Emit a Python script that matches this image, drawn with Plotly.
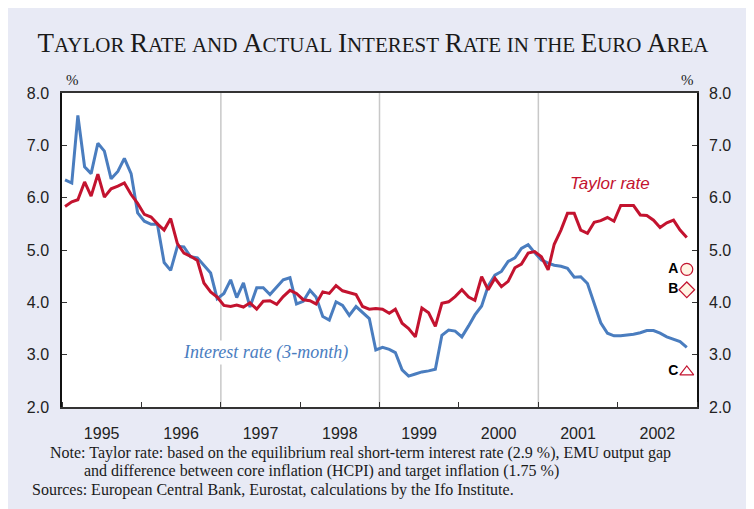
import pandas as pd
import plotly.graph_objects as go

# Monthly data, Jan 1995 - Nov 2002
interest_rate = [
    6.34, 6.28, 7.57, 6.59, 6.46, 7.04, 6.89, 6.36, 6.50, 6.75, 6.46, 5.71,
    5.55, 5.49, 5.49, 4.76, 4.61, 5.07, 5.06, 4.87, 4.85, 4.71, 4.56, 4.07,
    4.17, 4.43, 4.09, 4.37, 3.91, 4.28, 4.28, 4.15, 4.29, 4.43, 4.47, 3.97,
    4.02, 4.23, 4.10, 3.73, 3.66, 4.01, 3.94, 3.75, 3.92, 3.80, 3.69, 3.09,
    3.14, 3.10, 3.04, 2.71, 2.59, 2.63, 2.67, 2.69, 2.72, 3.37, 3.47, 3.45,
    3.34, 3.55, 3.76, 3.93, 4.31, 4.52, 4.59, 4.78, 4.85, 5.03, 5.10, 4.95,
    4.81, 4.75, 4.71, 4.69, 4.65, 4.48, 4.49, 4.36, 3.98, 3.61, 3.41, 3.36,
    3.36, 3.37, 3.39, 3.42, 3.46, 3.46, 3.41, 3.34, 3.30, 3.25, 3.14,
]
taylor_rate = [
    5.83, 5.92, 5.96, 6.30, 6.03, 6.45, 6.01, 6.17, 6.22, 6.28, 6.06, 5.89,
    5.68, 5.63, 5.50, 5.38, 5.60, 5.12, 4.94, 4.88, 4.80, 4.37, 4.20, 4.10,
    3.94, 3.92, 3.95, 3.91, 3.99, 3.87, 4.02, 4.03, 3.96, 4.11, 4.23, 4.17,
    4.05, 4.03, 3.97, 4.20, 4.17, 4.32, 4.22, 4.18, 4.15, 3.92, 3.87, 3.88,
    3.87, 3.79, 3.87, 3.60, 3.50, 3.34, 3.89, 3.80, 3.54, 3.98, 4.01, 4.11,
    4.24, 4.10, 4.04, 4.49, 4.24, 4.46, 4.30, 4.40, 4.66, 4.73, 4.94, 4.97,
    4.87, 4.62, 5.11, 5.38, 5.70, 5.70, 5.38, 5.32, 5.53, 5.56, 5.62, 5.55,
    5.85, 5.85, 5.85, 5.67, 5.66, 5.57, 5.43, 5.52, 5.57, 5.38, 5.24,
]
marker_labels = ["A", "B", "C"]
marker_values = [4.63, 4.24, 2.67]
marker_symbols = ["circle", "diamond", "triangle-up"]
marker_fills = ["#FFF4E4", "#FFF4E4", "#FFFFFF"]
grid_years = ["1997-01-01", "1999-01-01", "2001-01-01"]
title_words = ["Taylor", "Rate", "and", "Actual", "Interest", "Rate", "in", "the", "Euro", "Area"]

dates = pd.date_range("1995-01-01", periods=len(interest_rate), freq="MS") + pd.Timedelta(days=14)

RED = "#C3132F"
BLUE = "#4A7DBF"
BG = "#E8EAF5"

# page body adds an 8px offset; plot area lands at x 62-697, y 93-407 of the window
OFF = 8
L, T, PW, PH = 62 - OFF, 93 - OFF, 635, 314
W, H = 754, 509


def small_caps(word):
    first, rest = word[0], word[1:]
    big = 27 if first.isupper() else 21
    s = f"<span style='font-size:{big}px'>{first.upper()}</span>"
    if rest:
        s += f"<span style='font-size:21px'>{rest.upper()}</span>"
    return s


title_text = " ".join(small_caps(w) for w in title_words)

fig = go.Figure()
fig.add_trace(go.Scatter(x=dates, y=interest_rate, mode="lines",
                         line=dict(color=BLUE, width=3), name="Interest rate"))
fig.add_trace(go.Scatter(x=dates, y=taylor_rate, mode="lines",
                         line=dict(color=RED, width=3), name="Taylor rate"))
fig.add_trace(go.Scatter(
    x=[dates[-1]] * len(marker_values), y=marker_values, mode="markers+text",
    text=marker_labels, textposition="middle left",
    textfont=dict(family="Arial", size=14, color="black", weight="bold"),
    marker=dict(symbol=marker_symbols, size=12, color=marker_fills,
                line=dict(color=RED, width=1.2)),
    yaxis="y2", cliponaxis=False))

for gy in grid_years:
    fig.add_shape(type="line", xref="x", yref="paper", x0=gy, x1=gy, y0=0, y1=1,
                  line=dict(color="#C8C8C8", width=1.5), layer="below")

axis_font = dict(family="Arial", size=16, color="#222222")
fig.update_layout(
    width=W, height=H,
    paper_bgcolor=BG, plot_bgcolor="white",
    margin=dict(l=L, r=W - L - PW, t=T, b=H - T - PH, autoexpand=False),
    showlegend=False,
    title=dict(text=title_text,
               x=(373 - OFF) / W, xanchor="center", y=1 - (44 - OFF) / H, yanchor="middle",
               font=dict(family="Liberation Serif", size=22, color="#1a1a1a")),
    xaxis=dict(type="date", range=["1995-01-01", "2003-01-01"],
               tick0="1995-01-01", dtick="M12", tickformat="%Y",
               ticklabelmode="period", ticks="inside", ticklen=5,
               tickcolor="#333333", showgrid=False, zeroline=False,
               showline=True, linecolor="#333333", linewidth=1.5, mirror=True,
               tickfont=axis_font, ticklabelstandoff=11),
    yaxis=dict(range=[2, 8], dtick=1, tickformat=".1f", ticks="inside",
               ticklen=5, tickcolor="#333333", showgrid=False, zeroline=False,
               showline=True, linecolor="#111111", linewidth=1.5, mirror=True,
               tickfont=axis_font, ticklabelstandoff=8),
    yaxis2=dict(range=[2, 8], dtick=1, tickformat=".1f", ticks="inside",
                ticklen=5, tickcolor="#333333", overlaying="y", side="right",
                showgrid=False, zeroline=False, showline=False,
                tickfont=axis_font, ticklabelstandoff=11),
)


def px_x(px):
    return (px - 62) / PW


def px_y(py):
    return (407 - py) / PH


serif = "Liberation Serif"
annos = [
    dict(text="%", x=px_x(72), y=px_y(80), font=dict(family=serif, size=15, color="#222")),
    dict(text="%", x=px_x(687), y=px_y(80), font=dict(family=serif, size=15, color="#222")),
    dict(text="<i>Taylor rate</i>", x=px_x(610), y=px_y(183),
         font=dict(family="Arial", size=17, color=RED)),
    dict(text="<i>Interest rate (3-month)</i>", x=px_x(265), y=px_y(352), bgcolor="white",
         font=dict(family=serif, size=18, color=BLUE)),
]
for a in annos:
    fig.add_annotation(xref="paper", yref="paper", showarrow=False,
                       xanchor="center", yanchor="middle", **a)

notes = [
    ("Note: Taylor rate: based on the equilibrium real short-term interest rate (2.9 %), EMU output gap", 48, 453),
    ("and difference between core inflation (HCPI) and target inflation (1.75 %)", 82, 471),
    ("Sources: European Central Bank, Eurostat, calculations by the Ifo Institute.", 30, 490),
]
for txt, px, py in notes:
    fig.add_annotation(text=txt, xref="paper", yref="paper", showarrow=False,
                       x=px_x(px), y=px_y(py), xanchor="left", yanchor="middle",
                       font=dict(family=serif, size=16, color="#1a1a1a"))

fig.write_html("out.html")
